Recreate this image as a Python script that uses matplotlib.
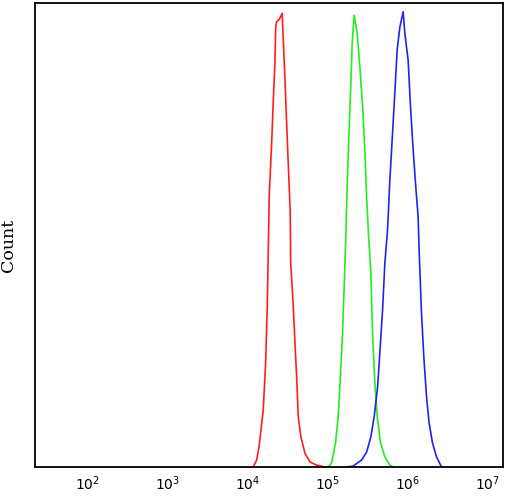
import matplotlib
matplotlib.use("Agg")
import matplotlib.pyplot as plt
import numpy as np

# log10 of fluorescence intensity and counts (% of axis height)
red_logx = [4.074, 4.116, 4.145, 4.170, 4.198, 4.228, 4.248, 4.261, 4.266, 4.273, 4.303, 4.323,
            4.344, 4.353, 4.365, 4.400, 4.435, 4.448, 4.469, 4.490, 4.510, 4.535, 4.540, 4.572,
            4.594, 4.615, 4.635, 4.668, 4.718, 4.781, 4.864, 4.968, 5.030]
red_count = [0.0, 1.5, 4.3, 8.0, 12.3, 22.4, 34.5, 46.8, 51.1, 58.6, 69.8, 78.7,
             87.1, 94.6, 96.0, 96.5, 97.8, 92.0, 83.8, 74.1, 65.5, 55.0, 44.2, 34.9,
             26.7, 19.4, 10.8, 6.5, 3.0, 1.1, 0.4, 0.0, 0.0]

green_logx = [5.009, 5.051, 5.101, 5.133, 5.163, 5.188, 5.208, 5.229, 5.246, 5.271, 5.292,
              5.308, 5.333, 5.370, 5.404, 5.438, 5.466, 5.488, 5.512, 5.541, 5.562, 5.591,
              5.620, 5.662, 5.716, 5.778, 5.819]
green_count = [0.0, 0.9, 5.2, 10.8, 20.3, 28.9, 38.8, 50.0, 61.2, 73.3, 82.8,
               91.4, 97.4, 93.5, 86.2, 77.6, 68.3, 58.2, 50.0, 41.8, 28.9, 18.1,
               10.8, 5.2, 2.2, 0.4, 0.0]

blue_logx = [5.238, 5.320, 5.425, 5.488, 5.541, 5.582, 5.625, 5.653, 5.687, 5.716, 5.749,
             5.757, 5.778, 5.812, 5.840, 5.869, 5.903, 5.944, 5.965, 6.006, 6.036, 6.069,
             6.102, 6.131, 6.143, 6.173, 6.202, 6.236, 6.268, 6.310, 6.360, 6.423]
blue_count = [0.0, 0.2, 1.5, 3.2, 6.5, 10.8, 17.2, 24.6, 33.8, 44.0, 51.1,
              53.9, 61.9, 72.0, 80.6, 89.9, 94.8, 98.1, 93.5, 87.7, 77.6, 68.3,
              60.3, 53.9, 46.8, 33.2, 23.7, 15.1, 9.5, 5.2, 2.2, 0.0]

tick_exps = [2, 3, 4, 5, 6, 7]

fig = plt.figure(figsize=(5.09, 4.96), dpi=100)
ax = fig.add_axes([35 / 509, 29 / 496, 468 / 509, 464 / 496])

for lx, c, col in [(red_logx, red_count, "#ff1f1f"),
                   (green_logx, green_count, "#22ee22"),
                   (blue_logx, blue_count, "#2323ee")]:
    ax.plot(10 ** np.array(lx), c, color=col, lw=1.2)

ax.set_xscale("log")
ax.set_xlim(10 ** 1.35, 10 ** 7.19)
ax.set_ylim(0, 100)
ax.set_xticks([10.0 ** e for e in tick_exps])
ax.set_xticklabels([f"$10^{{{e}}}$" for e in tick_exps], fontsize=10)
ax.xaxis.set_minor_locator(matplotlib.ticker.NullLocator())
ax.tick_params(axis="x", length=0, pad=5)
ax.set_yticks([])
for s in ax.spines.values():
    s.set_linewidth(1.3)
    s.set_color("black")

fig.text(9 / 509, 1 - 245 / 496, "Count", family="DejaVu Serif", fontsize=12.5,
         rotation=90, ha="center", va="center")

fig.savefig("out.png", dpi=100)
